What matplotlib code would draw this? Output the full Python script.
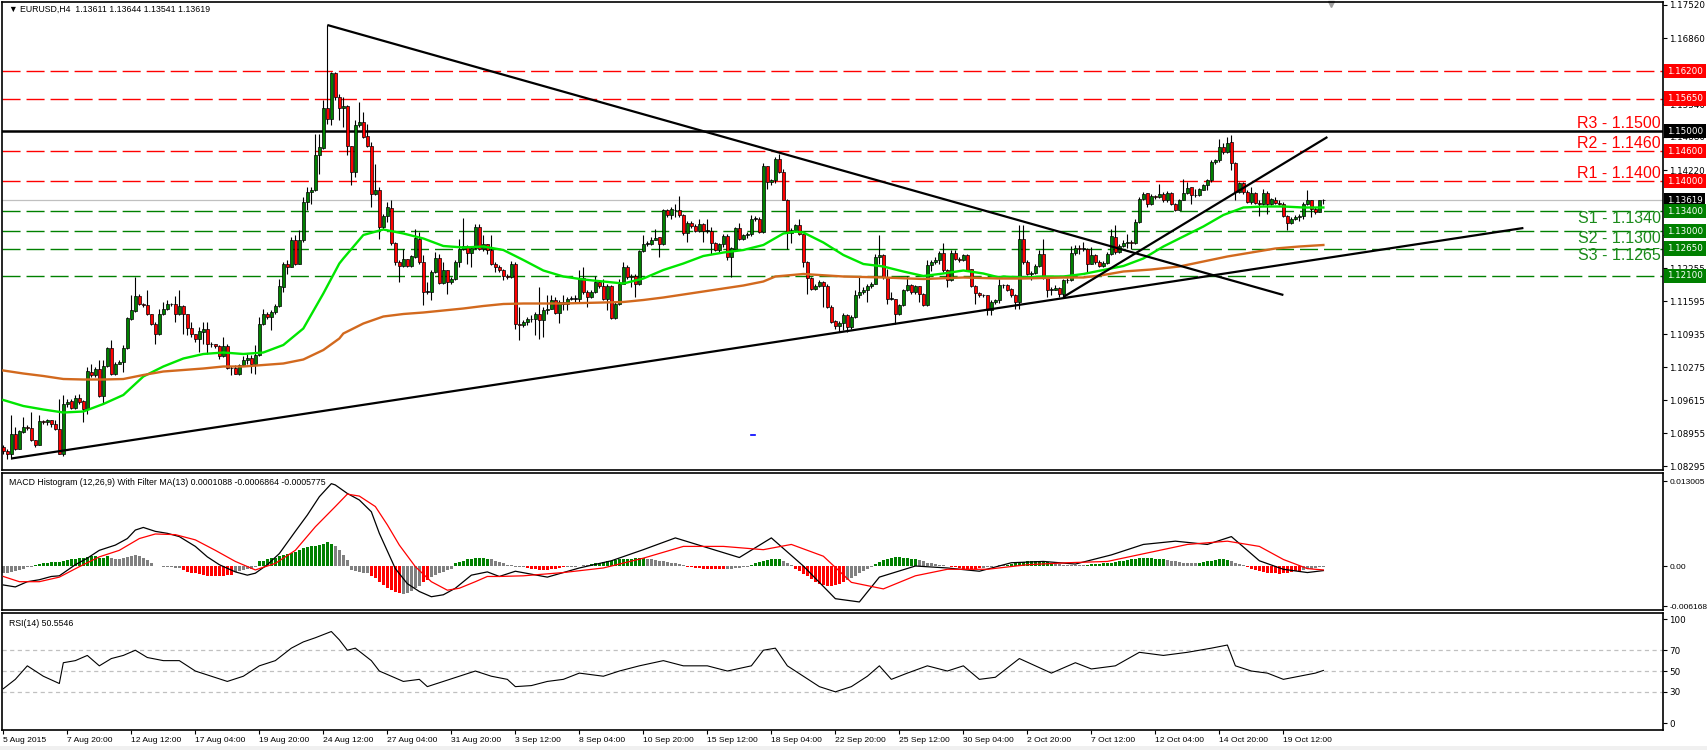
import numpy as np
import matplotlib.pyplot as plt
import matplotlib.transforms as mtransforms

plt.rcParams['lines.scale_dashes'] = False
plt.rcParams['font.family'] = ['Liberation Sans', 'DejaVu Sans']

# ---------------------------------------------------------------------------
# EURUSD H4 bars (bar 0 = 5 Aug 2015 04:00 ... bar 330 = 21 Oct 2015 04:00)
# open of each bar = close of the bar before
# ---------------------------------------------------------------------------
first_open = 1.0869
closes = [
    1.0861, 1.0854, 1.0894, 1.0865, 1.0899, 1.0909, 1.0907, 1.0882, 1.0872, 1.0921,
    1.0919, 1.0923, 1.0914, 1.0905, 1.0855, 1.0954, 1.0959, 1.0947, 1.0967, 1.0959,
    1.0945, 1.1019, 1.1012, 1.1025, 1.0970, 1.1031, 1.1067, 1.1014, 1.1035, 1.1039,
    1.1067, 1.1125, 1.1141, 1.1170, 1.1154, 1.1153, 1.1134, 1.1114, 1.1094, 1.1135,
    1.1145, 1.1154, 1.1154, 1.1134, 1.1150, 1.1134, 1.1107, 1.1094, 1.1085, 1.1099,
    1.1105, 1.1075, 1.1074, 1.1071, 1.1050, 1.1070, 1.1027, 1.1026, 1.1015, 1.1032,
    1.1042, 1.1047, 1.1034, 1.1052, 1.1115, 1.1135, 1.1129, 1.1138, 1.1151, 1.1189,
    1.1235, 1.1229, 1.1282, 1.1234, 1.1282, 1.1359, 1.1379, 1.1382, 1.1452, 1.1467,
    1.1545, 1.1525, 1.1617, 1.1569, 1.1547, 1.1550, 1.1471, 1.1419, 1.1512, 1.1519,
    1.1489, 1.1470, 1.1375, 1.1382, 1.1309, 1.1330, 1.1347, 1.1277, 1.1239, 1.1231,
    1.1243, 1.1231, 1.1249, 1.1285, 1.1239, 1.1179, 1.1179, 1.1219, 1.1247, 1.1197,
    1.1222, 1.1199, 1.1205, 1.1239, 1.1265, 1.1270, 1.1257, 1.1267, 1.1309, 1.1265,
    1.1274, 1.1262, 1.1235, 1.1229, 1.1222, 1.1210, 1.1209, 1.1235, 1.1114, 1.1112,
    1.1119, 1.1124, 1.1125, 1.1135, 1.1123, 1.1142, 1.1145, 1.1162, 1.1137, 1.1159,
    1.1155, 1.1165, 1.1165, 1.1165, 1.1207, 1.1179, 1.1169, 1.1179, 1.1199, 1.1190,
    1.1165, 1.1190, 1.1127, 1.1155, 1.1195, 1.1229, 1.1209, 1.1210, 1.1195, 1.1261,
    1.1275, 1.1275, 1.1283, 1.1287, 1.1274, 1.1341, 1.1332, 1.1343, 1.1342, 1.1332,
    1.1297, 1.1317, 1.1310, 1.1301, 1.1314, 1.1301, 1.1301, 1.1277, 1.1263, 1.1274,
    1.1290, 1.1249, 1.1265, 1.1305, 1.1285, 1.1292, 1.1295, 1.1325, 1.1325, 1.1299,
    1.1430, 1.1399, 1.1402, 1.1445, 1.1419, 1.1363, 1.1297, 1.1302, 1.1312, 1.1294,
    1.1239, 1.1207, 1.1185, 1.1190, 1.1199, 1.1190, 1.1149, 1.1119, 1.1110, 1.1117,
    1.1132, 1.1109, 1.1129, 1.1172, 1.1179, 1.1182, 1.1190, 1.1195, 1.1249, 1.1252,
    1.1209, 1.1165, 1.1165, 1.1135, 1.1152, 1.1182, 1.1192, 1.1179, 1.1190, 1.1175,
    1.1152, 1.1233, 1.1239, 1.1242, 1.1257, 1.1223, 1.1202, 1.1257, 1.1245, 1.1243,
    1.1252, 1.1223, 1.1190, 1.1177, 1.1172, 1.1172, 1.1143, 1.1159, 1.1162, 1.1192,
    1.1192, 1.1183, 1.1172, 1.1159, 1.1283, 1.1239, 1.1214, 1.1217, 1.1230, 1.1254,
    1.1207, 1.1183, 1.1183, 1.1187, 1.1175, 1.1202, 1.1203, 1.1257, 1.1267, 1.1265,
    1.1265, 1.1235, 1.1252, 1.1239, 1.1230, 1.1237, 1.1254, 1.1289, 1.1259, 1.1270,
    1.1277, 1.1279, 1.1277, 1.1319, 1.1365, 1.1375, 1.1355, 1.1370, 1.1369, 1.1375,
    1.1362, 1.1377, 1.1354, 1.1342, 1.1363, 1.1377, 1.1387, 1.1372, 1.1372, 1.1383,
    1.1392, 1.1402, 1.1439, 1.1442, 1.1469, 1.1459, 1.1477, 1.1437, 1.1379, 1.1397,
    1.1379, 1.1359, 1.1377, 1.1357, 1.1354, 1.1377, 1.1354, 1.1363, 1.1357, 1.1354,
    1.1330, 1.1317, 1.1325, 1.1329, 1.1330, 1.1354, 1.1361, 1.1345, 1.1339, 1.1361,
    1.13619,
]
highs = [
    1.0872, 1.0865, 1.0932, 1.0909, 1.0902, 1.0929, 1.0912, 1.0939, 1.0883, 1.0932,
    1.0923, 1.0925, 1.0923, 1.0922, 1.0965, 1.0972, 1.0965, 1.0965, 1.0972, 1.0975,
    1.0962, 1.1029, 1.1035, 1.1029, 1.1042, 1.1042, 1.1069, 1.1082, 1.1039, 1.1042,
    1.1072, 1.1129, 1.1172, 1.1209, 1.1175, 1.1157, 1.1182, 1.1135, 1.1119, 1.1145,
    1.1159, 1.1163, 1.1157, 1.1170, 1.1182, 1.1152, 1.1135, 1.1119, 1.1095, 1.1109,
    1.1119, 1.1119, 1.1079, 1.1075, 1.1072, 1.1089, 1.1075, 1.1030, 1.1032, 1.1035,
    1.1050, 1.1055, 1.1052, 1.1072, 1.1129, 1.1145, 1.1139, 1.1142, 1.1155, 1.1205,
    1.1239, 1.1242, 1.1289, 1.1292, 1.1302, 1.1369, 1.1389, 1.1389, 1.1495, 1.1495,
    1.1562, 1.1712, 1.1619, 1.1619, 1.1575, 1.1569, 1.1552, 1.1471, 1.1522, 1.1559,
    1.1539, 1.1515, 1.1479, 1.1435, 1.1389, 1.1335, 1.1359, 1.1362, 1.1279, 1.1242,
    1.1265, 1.1245, 1.1252, 1.1305, 1.1299, 1.1252, 1.1199, 1.1222, 1.1259, 1.1255,
    1.1239, 1.1223, 1.1209, 1.1242, 1.1285, 1.1327, 1.1272, 1.1270, 1.1314, 1.1314,
    1.1292, 1.1275, 1.1292, 1.1239, 1.1232, 1.1225, 1.1215, 1.1241, 1.1239, 1.1149,
    1.1123, 1.1129, 1.1132, 1.1139, 1.1189, 1.1149, 1.1172, 1.1172, 1.1169, 1.1162,
    1.1172, 1.1169, 1.1170, 1.1172, 1.1222, 1.1229, 1.1182, 1.1183, 1.1210, 1.1202,
    1.1205, 1.1195, 1.1192, 1.1159, 1.1205, 1.1239, 1.1232, 1.1214, 1.1215, 1.1263,
    1.1292, 1.1281, 1.1289, 1.1305, 1.1289, 1.1345, 1.1345, 1.1349, 1.1355, 1.1370,
    1.1335, 1.1321, 1.1321, 1.1314, 1.1325, 1.1317, 1.1325, 1.1309, 1.1279, 1.1277,
    1.1294, 1.1295, 1.1269, 1.1309, 1.1317, 1.1295, 1.1299, 1.1332, 1.1330, 1.1329,
    1.1437, 1.1430, 1.1405, 1.1449, 1.1455, 1.1425, 1.1365, 1.1307, 1.1315, 1.1325,
    1.1295, 1.1241, 1.1209, 1.1194, 1.1202, 1.1201, 1.1194, 1.1152, 1.1122, 1.1121,
    1.1137, 1.1134, 1.1132, 1.1182, 1.1209, 1.1189, 1.1194, 1.1199, 1.1254, 1.1292,
    1.1255, 1.1225, 1.1179, 1.1165, 1.1155, 1.1185, 1.1210, 1.1195, 1.1192, 1.1182,
    1.1177, 1.1242, 1.1242, 1.1249, 1.1261, 1.1277, 1.1225, 1.1263, 1.1263, 1.1249,
    1.1255, 1.1254, 1.1225, 1.1192, 1.1179, 1.1175, 1.1170, 1.1162, 1.1165, 1.1205,
    1.1195, 1.1194, 1.1187, 1.1175, 1.1312, 1.1312, 1.1242, 1.1221, 1.1234, 1.1262,
    1.1285, 1.1210, 1.1189, 1.1192, 1.1189, 1.1205, 1.1207, 1.1270, 1.1272, 1.1272,
    1.1279, 1.1267, 1.1269, 1.1254, 1.1242, 1.1241, 1.1259, 1.1305, 1.1312, 1.1275,
    1.1282, 1.1295, 1.1282, 1.1325, 1.1369, 1.1379, 1.1377, 1.1374, 1.1372, 1.1394,
    1.1379, 1.1381, 1.1379, 1.1357, 1.1365, 1.1405, 1.1399, 1.1389, 1.1385, 1.1387,
    1.1395, 1.1405, 1.1442, 1.1445, 1.1485, 1.1477, 1.1489, 1.1492, 1.1439, 1.1399,
    1.1399, 1.1382, 1.1389, 1.1379, 1.1362, 1.1385, 1.1381, 1.1367, 1.1369, 1.1362,
    1.1359, 1.1332, 1.1329, 1.1332, 1.1335, 1.1359, 1.1383, 1.1363, 1.1349, 1.1362,
    1.13644,
]
lows = [
    1.0855, 1.0845, 1.0845, 1.0862, 1.0865, 1.0897, 1.0902, 1.0881, 1.0869, 1.0872,
    1.0915, 1.0912, 1.0909, 1.0902, 1.0854, 1.0850, 1.0949, 1.0945, 1.0945, 1.0955,
    1.0919, 1.0935, 1.1009, 1.1009, 1.0969, 1.0955, 1.1029, 1.1012, 1.1012, 1.1034,
    1.1019, 1.1065, 1.1122, 1.1139, 1.1152, 1.1149, 1.1132, 1.1112, 1.1075, 1.1092,
    1.1132, 1.1142, 1.1150, 1.1119, 1.1132, 1.1095, 1.1092, 1.1089, 1.1079, 1.1059,
    1.1075, 1.1055, 1.1069, 1.1067, 1.1045, 1.1049, 1.1025, 1.1012, 1.1014, 1.1012,
    1.1030, 1.1035, 1.1017, 1.1015, 1.1050, 1.1112, 1.1125, 1.1102, 1.1135, 1.1149,
    1.1179, 1.1215, 1.1232, 1.1232, 1.1239, 1.1279, 1.1342, 1.1355, 1.1381, 1.1415,
    1.1465, 1.1515, 1.1512, 1.1562, 1.1522, 1.1509, 1.1452, 1.1392, 1.1409, 1.1509,
    1.1487, 1.1469, 1.1349, 1.1372, 1.1285, 1.1305, 1.1319, 1.1272, 1.1232, 1.1199,
    1.1229, 1.1229, 1.1229, 1.1247, 1.1235, 1.1152, 1.1175, 1.1163, 1.1217, 1.1195,
    1.1195, 1.1175, 1.1195, 1.1202, 1.1229, 1.1262, 1.1235, 1.1229, 1.1265, 1.1262,
    1.1261, 1.1255, 1.1232, 1.1219, 1.1219, 1.1202, 1.1205, 1.1207, 1.1105, 1.1082,
    1.1109, 1.1112, 1.1119, 1.1092, 1.1085, 1.1089, 1.1135, 1.1144, 1.1135, 1.1117,
    1.1142, 1.1142, 1.1162, 1.1159, 1.1159, 1.1175, 1.1149, 1.1167, 1.1177, 1.1187,
    1.1163, 1.1142, 1.1125, 1.1125, 1.1152, 1.1194, 1.1205, 1.1189, 1.1169, 1.1192,
    1.1259, 1.1270, 1.1272, 1.1282, 1.1249, 1.1272, 1.1329, 1.1325, 1.1329, 1.1329,
    1.1292, 1.1279, 1.1307, 1.1299, 1.1299, 1.1279, 1.1297, 1.1255, 1.1261, 1.1259,
    1.1269, 1.1242, 1.1209, 1.1262, 1.1283, 1.1283, 1.1287, 1.1290, 1.1321, 1.1297,
    1.1297, 1.1385, 1.1392, 1.1397, 1.1417, 1.1362, 1.1265, 1.1277, 1.1299, 1.1292,
    1.1229, 1.1175, 1.1182, 1.1182, 1.1189, 1.1149, 1.1147, 1.1117, 1.1105, 1.1099,
    1.1102, 1.1099, 1.1105, 1.1127, 1.1167, 1.1174, 1.1159, 1.1187, 1.1194, 1.1235,
    1.1205, 1.1155, 1.1162, 1.1115, 1.1132, 1.1150, 1.1181, 1.1175, 1.1175, 1.1159,
    1.1150, 1.1150, 1.1221, 1.1235, 1.1235, 1.1219, 1.1189, 1.1201, 1.1243, 1.1239,
    1.1241, 1.1221, 1.1189, 1.1154, 1.1169, 1.1169, 1.1132, 1.1132, 1.1154, 1.1157,
    1.1187, 1.1181, 1.1169, 1.1145, 1.1145, 1.1235, 1.1212, 1.1202, 1.1214, 1.1229,
    1.1205, 1.1169, 1.1172, 1.1182, 1.1169, 1.1169, 1.1197, 1.1201, 1.1252, 1.1255,
    1.1261, 1.1219, 1.1234, 1.1235, 1.1229, 1.1229, 1.1234, 1.1252, 1.1255, 1.1257,
    1.1269, 1.1267, 1.1265, 1.1275, 1.1317, 1.1362, 1.1349, 1.1352, 1.1365, 1.1367,
    1.1359, 1.1359, 1.1352, 1.1341, 1.1342, 1.1362, 1.1375, 1.1355, 1.1369, 1.1370,
    1.1382, 1.1383, 1.1399, 1.1434, 1.1439, 1.1455, 1.1457, 1.1422, 1.1362, 1.1377,
    1.1375, 1.1357, 1.1355, 1.1354, 1.1330, 1.1352, 1.1335, 1.1352, 1.1354, 1.1352,
    1.1329, 1.1302, 1.1314, 1.1322, 1.1321, 1.1325, 1.1352, 1.1329, 1.1335, 1.1339,
    1.13541,
]
last_open = 1.13611

# moving averages (bar index, price)
green_ma_x = [0, 5, 10, 15, 20, 25, 30, 35, 40, 45, 50, 55, 60, 65, 70, 75, 80, 84,
              85, 90, 95, 100, 105, 110, 115, 120, 125, 130, 135, 140, 145, 150, 155, 160, 165,
              170, 175, 180, 185, 190, 195, 198, 200, 205, 210, 215, 220, 225, 230, 235, 240, 245, 249,
              250, 255, 260, 265, 270, 275, 280, 285, 290, 295, 300, 305, 310, 315, 320, 325, 330]
green_ma_y = [1.0962, 1.0950, 1.0943, 1.0937, 1.0939, 1.0954, 1.0972, 1.1009, 1.1029, 1.1045,
              1.1054, 1.1057, 1.1054, 1.1057, 1.1072, 1.1105, 1.1175, 1.1235,
              1.1245, 1.1292, 1.1303, 1.1295, 1.1285, 1.1270, 1.1267, 1.1269, 1.1262, 1.1242,
              1.1221, 1.1209, 1.1203, 1.1199, 1.1195, 1.1205, 1.1222,
              1.1235, 1.1250, 1.1257, 1.1262, 1.1272, 1.1295, 1.1299, 1.1297, 1.1277, 1.1252,
              1.1234, 1.1229, 1.1219, 1.1210, 1.1215, 1.1221, 1.1215, 1.1207,
              1.1209, 1.1207, 1.1209, 1.1209, 1.1214, 1.1222, 1.1230, 1.1245, 1.1269, 1.1289,
              1.1309, 1.1332, 1.1347, 1.1349, 1.1349, 1.1347, 1.1347]
brown_ma_x = [0, 5, 10, 15, 20, 25, 30, 35, 40, 45, 50, 55, 60, 65, 70, 75, 80, 84,
              85, 90, 95, 100, 105, 110, 115, 120, 125, 130, 140, 150, 155, 160, 165,
              170, 175, 180, 185, 190, 193, 200, 210, 220, 230, 240, 249,
              255, 265, 270, 275, 280, 287, 294, 300, 306, 312, 318, 324, 330]
brown_ma_y = [1.1021, 1.1015, 1.1010, 1.1004, 1.1003, 1.1003, 1.1004, 1.1012, 1.1019, 1.1022,
              1.1025, 1.1029, 1.1029, 1.1032, 1.1035, 1.1043, 1.1062, 1.1085,
              1.1095, 1.1115, 1.1129, 1.1134, 1.1137, 1.1141, 1.1145, 1.1150, 1.1154, 1.1155,
              1.1155, 1.1157, 1.1158, 1.1162, 1.1167,
              1.1173, 1.1179, 1.1185, 1.1191, 1.1199, 1.1209, 1.1214, 1.1209, 1.1207, 1.1204,
              1.1207, 1.1205,
              1.1205, 1.1207, 1.1207, 1.1212, 1.1219, 1.1223, 1.1229, 1.1239, 1.1249, 1.1257,
              1.1265, 1.1269, 1.1272]

# drawn trend lines: (bar, price) end points
trend_lines = [
    ([81, 320], [1.1712, 1.1172]),   # falling line from the 24 Aug top
    ([2, 380], [1.0845, 1.1306]),    # long support line
    ([265, 331], [1.1168, 1.1488]),  # short rising line
]

red_levels = [1.1620, 1.1565, 1.1460, 1.1400]
green_levels = [1.1340, 1.1300, 1.1265, 1.1210]
black_level = 1.1500
last_price = 1.13619

rs_names = ["R3 - 1.1500", "R2 - 1.1460", "R1 - 1.1400",
            "S1 - 1.1340", "S2 - 1.1300", "S3 - 1.1265"]
rs_prices = [1.1500, 1.1460, 1.1400, 1.1340, 1.1300, 1.1265]

# price scale labels (the one fully hidden behind a level box is left blank)
price_ticks = [1.17520, 1.16860, 1.15540, 1.14880, 1.14220, 1.12915,
               1.12255, 1.11595, 1.10935, 1.10275, 1.09615, 1.08955, 1.08295]
price_tick_labels = ["1.17520", "1.16860", "1.15540", "1.14880", "1.14220", "",
                     "1.12255", "1.11595", "1.10935", "1.10275", "1.09615", "1.08955", "1.08295"]
box_prices = [1.16200, 1.15650, 1.15000, 1.14600, 1.14000, 1.13619,
              1.13400, 1.13000, 1.12650, 1.12100]
box_colors = ["#ff0000", "#ff0000", "#000000", "#ff0000", "#ff0000", "#000000",
              "#008000", "#008000", "#008000", "#008000"]

# MACD (12,26,9) lines (bar, value)
macd_x = [0, 3, 6, 9, 12, 14, 18, 21, 24, 28, 31, 33, 35, 38, 41, 44, 48, 51, 54, 58,
          61, 63, 66, 69, 73, 76, 79, 82, 83, 86, 89, 92, 94, 98, 101, 104, 107, 110, 113, 117,
          121, 124, 128, 136, 144, 152, 160, 168, 176, 184, 192, 200, 208, 214, 219, 228, 236, 244, 252, 260,
          268, 277, 285, 293, 301, 307, 314, 320, 326, 330]
macd_y = [-0.0029, -0.0032, -0.0024, -0.0021, -0.0016, -0.0015, 0.0002, 0.0012, 0.0024, 0.0032,
          0.0042, 0.0055, 0.0059, 0.0053, 0.0050, 0.0045, 0.0030, 0.0014, 0.0002, -0.0009,
          -0.0014, -0.0011, 0.0002, 0.0019, 0.0053, 0.0078, 0.0106, 0.0126, 0.0124, 0.0111,
          0.0101, 0.0083, 0.0050, -0.0004, -0.0027, -0.0039, -0.0047, -0.0044, -0.0034, -0.0014,
          -0.0009, -0.0016, -0.0008, -0.0017, -0.0003, 0.0008, 0.0025, 0.0043, 0.0028, 0.0013,
          0.0043, 0.0000, -0.0050, -0.0055, -0.0017, 0.0000, -0.0003, -0.0008, 0.0005, 0.0007,
          0.0003, 0.0017, 0.0033, 0.0038, 0.0033, 0.0045, 0.0008, -0.0005, -0.0010, -0.0007]
signal_x = [0, 4, 9, 14, 19, 24, 29, 34, 38, 43, 48, 53, 58, 63, 68, 73, 78, 83, 86, 89,
            93, 96, 99, 103, 107, 111, 114, 118, 121, 124, 130, 140, 150, 160, 170, 180, 190, 197, 205, 212,
            220, 228, 236, 246, 256, 266, 276, 286, 296, 306, 314, 320, 326, 330]
signal_y = [-0.0016, -0.0024, -0.0024, -0.0017, -0.0001, 0.0014, 0.0024, 0.0042, 0.0049, 0.0048,
            0.0040, 0.0024, 0.0007, -0.0006, 0.0004, 0.0024, 0.0060, 0.0091, 0.0110, 0.0107,
            0.0091, 0.0063, 0.0032, -0.0001, -0.0024, -0.0037, -0.0034, -0.0024, -0.0016, -0.0016,
            -0.0015, -0.0010, -0.0003, 0.0012, 0.0030, 0.0030, 0.0025, 0.0033, 0.0015, -0.0025,
            -0.0035, -0.0015, -0.0005, -0.0005, 0.0002, 0.0005, 0.0007, 0.0020, 0.0033, 0.0038,
            0.0030, 0.0010, -0.0004, -0.0006]

# histogram, one value per bar, in units of 0.0001
hist_e4 = [
    -11, -11, -9, -7, -6, -4, -2, -1, 2, 3, 4, 5, 6, 6, 6, 8, 9, 10, 10, 12,
    13, 14, 15, 16, 13, 13, 15, 12, 10, 10, 12, 14, 16, 17, 15, 13, 9, 5, -0.5, -0.5,
    -1, -1.5, -2, -2.5, -3.5, -6, -9, -10, -11, -12, -14, -15, -16, -16, -16, -15, -14, -13, -9, -7,
    -6, -5, -4, -1, 7, 8, 10, 12, 13, 15, 17, 19, 20, 22, 24, 27, 29, 30, 31, 32,
    34, 36, 34, 31, 24, 17, 9, -6, -8, -9, -10, -11, -15, -19, -24, -29, -34, -37, -39, -42,
    -43, -41, -38, -34, -31, -24, -21, -17, -14, -11, -9, -6, -4, 4, 6, 8, 10, 11, 13, 13,
    12, 11, 10, 8, 6, 4, 2, 1, -1, -2, -2, -3, -4, -5, -6, -6, -6, -5, -4, -3,
    -2, -2, -1, -1, 0, 1, 2, 3, 4, 5, 6, 7, 8, 9, 10, 10, 11, 11, 12, 12,
    12, 11, 10, 9, 8, 7, 6, 5, 4, 3, 2, -1, -2, -3, -3, -4, -4, -4, -5, -5,
    -5, -4, -4, -3, -3, -2, -1, 2, 4, 6, 8, 9, 10, 11, 10, 8, 5, 2, -4, -8,
    -12, -16, -20, -24, -27, -29, -30, -30, -29, -27, -25, -22, -19, -15, -11, -7, -4, -1, 3, 6,
    9, 11, 13, 14, 14, 13, 12, 11, 10, 9, 7, 5, 4, 3, 2, 1, 0, -1, -2, -3,
    -4, -5, -5, -4, -3, -3, -2, -1, 0, 1, 1, 2, 3, 4, 5, 6, 7, 7, 8, 8,
    7, 6, 5, 4, 3, 2, 2, 1, 1, 1, 2, 2, 3, 3, 3, 4, 4, 5, 6, 7,
    8, 9, 10, 11, 12, 12, 12, 12, 11, 11, 10, 9, 8, 7, 6, 5, 5, 4, 4, 5,
    6, 7, 8, 9, 10, 10, 9, 7, 5, 3, 1, -2, -4, -6, -8, -9, -10, -11, -11, -12,
    -11, -10, -9, -8, -7, -6, -5, -4, -3, -2, -1,
]
# histogram colour runs: (first bar, last bar, colour)
hist_runs = [
    (0, 7, 'gray'), (8, 26, 'green'), (27, 44, 'gray'), (45, 57, 'red'), (58, 63, 'gray'),
    (64, 82, 'green'), (83, 91, 'gray'), (92, 99, 'red'), (100, 104, 'gray'), (105, 106, 'red'),
    (107, 112, 'gray'), (113, 121, 'green'), (122, 130, 'gray'), (131, 140, 'red'),
    (141, 146, 'gray'), (147, 160, 'green'), (161, 170, 'gray'), (171, 180, 'red'),
    (181, 186, 'gray'), (187, 194, 'green'), (195, 197, 'gray'), (198, 210, 'red'),
    (211, 217, 'gray'), (218, 228, 'green'), (229, 236, 'gray'), (237, 244, 'red'),
    (245, 250, 'gray'), (251, 262, 'green'), (263, 270, 'gray'), (271, 290, 'green'),
    (291, 298, 'gray'), (299, 306, 'green'), (307, 310, 'gray'), (311, 324, 'red'),
    (325, 330, 'gray'),
]

# RSI(14) (bar, value)
rsi_x = [0, 3, 6, 10, 14, 15, 18, 21, 24, 27, 30, 33, 36, 40, 44, 48, 52, 56, 60, 64,
         68, 72, 75, 78, 80, 82, 84, 86, 88, 92, 94, 97, 100, 104, 106, 110, 114, 118, 122, 126,
         128, 132, 136, 140, 144, 150, 154, 159, 165, 170, 176, 181, 187, 190, 193, 196, 200, 204, 208, 212,
         216, 219, 222, 226, 231, 236, 240, 244, 248, 254, 258, 262, 268, 272, 278, 284, 290, 296, 302, 306,
         308, 312, 316, 320, 324, 328, 330]
rsi_y = [33, 42, 55, 45, 38, 58, 60, 65, 55, 62, 65, 70, 63, 60, 60, 50, 45, 40, 45, 55,
         60, 72, 78, 82, 85, 88, 80, 70, 72, 60, 50, 45, 40, 42, 35, 40, 45, 50, 45, 42,
         35, 36, 40, 42, 48, 45, 50, 55, 60, 55, 55, 50, 55, 70, 72, 55, 45, 35, 30, 35,
         45, 55, 42, 48, 55, 50, 55, 42, 44, 62, 55, 48, 58, 52, 55, 68, 65, 68, 72, 75,
         55, 50, 48, 42, 45, 48, 50.55]

date_labels = ["5 Aug 2015", "7 Aug 20:00", "12 Aug 12:00", "17 Aug 04:00", "19 Aug 20:00",
               "24 Aug 12:00", "27 Aug 04:00", "31 Aug 20:00", "3 Sep 12:00", "8 Sep 04:00",
               "10 Sep 20:00", "15 Sep 12:00", "18 Sep 04:00", "22 Sep 20:00", "25 Sep 12:00",
               "30 Sep 04:00", "2 Oct 20:00", "7 Oct 12:00", "12 Oct 04:00", "14 Oct 20:00",
               "19 Oct 12:00"]
date_label_step = 16  # one label every 16 bars

# ---------------------------------------------------------------------------
# layout: three panels stacked, sized in pixels like the terminal window
# ---------------------------------------------------------------------------
W, H = 1707, 750
fig = plt.figure(figsize=(W / 100, H / 100), dpi=100)


def px_rect(x0, y0, x1, y1):
    return [x0 / W, 1 - y1 / H, (x1 - x0) / W, (y1 - y0) / H]


ax = fig.add_axes(px_rect(2, 2, 1663, 470))
ax_macd = fig.add_axes(px_rect(2, 473, 1663, 610))
ax_rsi = fig.add_axes(px_rect(2, 613, 1663, 730))

xlim = (-0.33, 414.9)
for a in (ax, ax_macd, ax_rsi):
    a.set_xlim(*xlim)
    a.yaxis.tick_right()
    a.tick_params(axis='y', direction='out', length=3, width=0.8, pad=1.5,
                  labelsize=6.3, colors='black')
    a.tick_params(axis='x', bottom=False, labelbottom=False)
    for s in a.spines.values():
        s.set_linewidth(1.2)

ax.set_ylim(1.0822, 1.1758)
ax_macd.set_ylim(-0.00673, 0.01423)
ax_rsi.set_ylim(-6.7, 105.8)

# ---------------------------------------------------------------------------
# main panel
# ---------------------------------------------------------------------------
n = len(closes)
idx = np.arange(n)
c = np.array(closes)
o = np.array([first_open] + closes[:-1])
o[-1] = last_open
h = np.maximum(np.array(highs), np.maximum(o, c))
l = np.minimum(np.array(lows), np.minimum(o, c))

# horizontal levels
for p in red_levels:
    ax.axhline(p, color='#ff0000', lw=1.0, dashes=(13, 4.3), zorder=1)
for p in green_levels:
    ax.axhline(p, color='#008000', lw=1.0, dashes=(13, 4.3), zorder=1)
ax.axhline(black_level, color='black', lw=1.8, zorder=1)
ax.axhline(last_price, color='#c0c0c0', lw=0.9, zorder=1)

# candles
ax.vlines(idx, l, h, color='black', lw=0.8, zorder=3)
body_col = np.where(c > o, '#008000', np.where(c < o, '#ff0000', 'black'))
body_h = np.maximum(np.abs(c - o), 0.00003)
ax.bar(idx, body_h, bottom=np.minimum(o, c), width=0.78, color=body_col,
       edgecolor='black', linewidth=0.5, zorder=4)

# moving averages
ax.plot(green_ma_x, green_ma_y, color='#00e600', lw=1.7, zorder=5)
ax.plot(brown_ma_x, brown_ma_y, color='#d2691e', lw=1.7, zorder=5)

# trend lines
for xs, ys in trend_lines:
    ax.plot(xs, ys, color='black', lw=1.6, zorder=6, solid_capstyle='butt')

# small blue marker left on the chart
ax.plot([187, 188], [1.0892, 1.0892], color='blue', lw=1.2, zorder=6)

# R / S labels at the right edge of the chart
rs_trans = mtransforms.offset_copy(
    mtransforms.blended_transform_factory(ax.transAxes, ax.transData), fig=fig, x=-2, y=0, units='dots')
for name, p in zip(rs_names, rs_prices):
    col = '#ff0000' if name.startswith('R') else '#1a8a1a'
    va = 'bottom' if name.startswith('R') else 'top'
    ax.text(1.0, p, name, transform=rs_trans, ha='right', va=va, fontsize=11.5, color=col, zorder=7)

# price scale with coloured level boxes
ax.set_yticks(price_ticks)
ax.set_yticklabels(price_tick_labels)
box_trans = mtransforms.offset_copy(
    mtransforms.blended_transform_factory(ax.transAxes, ax.transData), fig=fig, x=4, y=0, units='dots')
for p, col in zip(box_prices, box_colors):
    ax.text(1.0, p, f"{p:.5f}", transform=box_trans, ha='left', va='center', fontsize=6.3,
            family='DejaVu Sans', color='white', clip_on=False, zorder=8,
            bbox=dict(boxstyle='square,pad=0.3', facecolor=col, edgecolor='none'))

ax.text(0.004, 0.993, "\u25bc EURUSD,H4  1.13611 1.13644 1.13541 1.13619", transform=ax.transAxes,
        ha='left', va='top', fontsize=6.3, color='black')

# chart-shift marker at the top
ax.plot([332], [1.1755], marker='v', color='#a0a0a0', markersize=5, clip_on=False)

# ---------------------------------------------------------------------------
# MACD panel
# ---------------------------------------------------------------------------
hist = np.array(hist_e4) * 1e-4
hist_col = ['gray'] * n
for b0, b1, col in hist_runs:
    for i in range(b0, b1 + 1):
        hist_col[i] = col
colour_map = {'green': '#008000', 'red': '#ff0000', 'gray': '#808080'}
ax_macd.bar(idx, hist, width=0.7, color=[colour_map[k] for k in hist_col], zorder=2)
ax_macd.plot(macd_x, macd_y, color='black', lw=0.9, zorder=3)
ax_macd.plot(signal_x, signal_y, color='#ff0000', lw=0.9, zorder=3)
ax_macd.set_yticks([0.013005, 0.0, -0.006168])
ax_macd.set_yticklabels(["0.013005", "0.00", "-0.006168"])
ax_macd.text(0.004, 0.96, "MACD Histogram (12,26,9) With Filter MA(13) 0.0001088 -0.0006864 -0.0005775",
             transform=ax_macd.transAxes, ha='left', va='top', fontsize=6.3, color='black')

# ---------------------------------------------------------------------------
# RSI panel
# ---------------------------------------------------------------------------
for lvl in (70, 50, 30):
    ax_rsi.axhline(lvl, color='#c0c0c0', lw=0.9, dashes=(3, 2.5), zorder=1)
ax_rsi.plot(rsi_x, rsi_y, color='black', lw=0.8, zorder=3)
ax_rsi.set_yticks([100, 70, 50, 30, 0])
ax_rsi.set_yticklabels(["100", "70", "50", "30", "0"])
ax_rsi.text(0.004, 0.95, "RSI(14) 50.5546", transform=ax_rsi.transAxes,
            ha='left', va='top', fontsize=6.3, color='black')

for a in (ax, ax_rsi):
    for lab in a.get_yticklabels():
        lab.set_family('DejaVu Sans')
for lab in ax_macd.get_yticklabels():
    lab.set_family('Liberation Sans')
    lab.set_fontsize(6.0)

# date scale under the RSI panel
tick_pos = [i * date_label_step for i in range(len(date_labels))]
ax_rsi.set_xticks(tick_pos)
ax_rsi.set_xticklabels(date_labels)
ax_rsi.tick_params(axis='x', bottom=True, labelbottom=True, direction='out',
                   length=3, width=0.8, pad=2, labelsize=6.1)
for lab in ax_rsi.get_xticklabels():
    lab.set_horizontalalignment('left')

# light window strip at the very bottom
fig.patches.append(plt.Rectangle((0, 0), 1, 4 / H, transform=fig.transFigure,
                                 facecolor='#f0f0f0', edgecolor='none'))

fig.savefig("out.png", dpi=100)
